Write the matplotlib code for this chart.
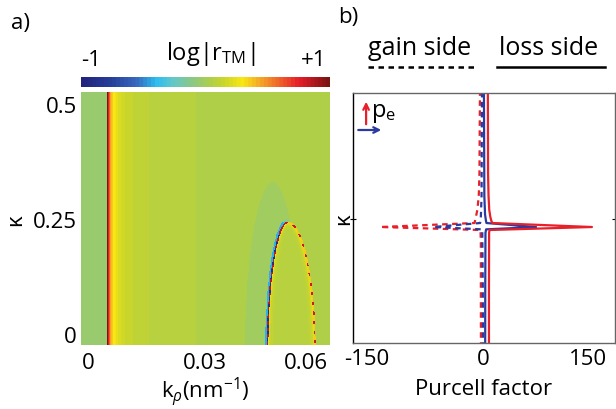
import numpy as np
import matplotlib
matplotlib.use('Agg')
import matplotlib.pyplot as plt
from matplotlib.colors import LinearSegmentedColormap, Normalize
from matplotlib.lines import Line2D
from matplotlib.transforms import ScaledTranslation

plt.rcParams['font.family'] = ['Open Sans', 'DejaVu Sans']
plt.rcParams['mathtext.fontset'] = 'custom'
plt.rcParams['mathtext.rm'] = 'Open Sans'
plt.rcParams['mathtext.it'] = 'Open Sans:italic'
plt.rcParams['mathtext.bf'] = 'Open Sans:bold'
plt.rcParams['axes.unicode_minus'] = False

# ---------------- panel a : map parameters ----------------
k_ticks = [0, 0.03, 0.06]
k_ticklabels = ['0', '0.03', '0.06']
kappa_ticks = [0, 0.25, 0.5]
kappa_ticklabels = ['0', '0.25', '0.5']
k_range = (-0.0003, 0.0737)
kappa_range = (-0.022, 0.528)

light_line_k = 0.00728
left_level = -0.06
background_level = 0.02
light_line_amp = 0.0028
light_line_exp = 0.75
arc_apex_k = 0.0612
arc_center_kappa = -0.05
arc_top_kappa = 0.2435
arc_halfwidth_left = 0.00609
arc_halfwidth_right = 0.00817
halo_center_k = 0.0567
halo_top_kappa = 0.33
halo_halfwidth = 0.0083

cbar_ticklabels = ['-1', '+1']

# colour map (position, rgb)
cmap_pos = [0.00, 0.12, 0.22, 0.30, 0.37, 0.45, 0.52, 0.58, 0.65, 0.73, 0.80, 0.88, 1.00]
cmap_rgb = [(35, 35, 125), (40, 65, 155), (55, 105, 190), (45, 190, 240), (100, 200, 200),
            (140, 200, 130), (175, 207, 75), (205, 215, 40), (250, 232, 20), (245, 160, 40),
            (240, 100, 40), (230, 30, 40), (125, 20, 20)]

# ---------------- panel b : Purcell factor curves ----------------
red_solid_kappa = [-0.03, 0.10, 0.22, 0.2261, 0.2326, 0.2413, 0.246, 0.255, 0.27, 0.30, 0.35, 0.53]
red_solid_P     = [8.6, 8.6, 8.8, 9.5, 156, 13.5, 12.0, 10.5, 9.0, 8.0, 7.3, 7.0]
blue_solid_kappa = [-0.03, 0.10, 0.22, 0.2275, 0.2326, 0.2413, 0.246, 0.26, 0.30, 0.53]
blue_solid_P     = [3.2, 3.3, 3.6, 4.5, 76, 5.0, 4.3, 3.0, 2.0, 1.4]
red_dash_kappa = [-0.03, 0.10, 0.20, 0.2261, 0.2326, 0.2413, 0.245, 0.255, 0.27, 0.30, 0.35, 0.53]
red_dash_P     = [-2.9, -3.0, -3.0, -3.5, -147, -12.0, -11.5, -10.0, -8.0, -6.0, -5.0, -4.3]
blue_dash_kappa = [-0.03, 0.10, 0.2275, 0.2326, 0.2413, 0.255, 0.30, 0.53]
blue_dash_P     = [0.0, -0.2, -1.0, -71, -4.0, -3.0, -2.0, -1.4]
P_ticks = [-150, 0, 150]
P_ticklabels = ['-150', '0', '150']
P_range = (-186, 189)
kappa_b_range = (-0.0196, 0.524)

RED = '#E8202A'
BLUE = '#2B3A9E'

W, H = 616, 409
fig = plt.figure(figsize=(W / 100, H / 100), dpi=100)


def box(x0, y0, x1, y1):
    return [x0 / W, 1 - y1 / H, (x1 - x0) / W, (y1 - y0) / H]


cmap = LinearSegmentedColormap.from_list(
    'rtm', [(p, tuple(c / 255 for c in rgb)) for p, rgb in zip(cmap_pos, cmap_rgb)], N=64)
norm = Normalize(-1, 1)

# ---- build map ----
axa = fig.add_axes(box(81, 92, 330, 345))
nk, nq = 600, 500
k = np.linspace(k_range[0], k_range[1], nk)
q = np.linspace(kappa_range[0], kappa_range[1], nq)
K, Q = np.meshgrid(k, q)
px_k = (k_range[1] - k_range[0]) / 249.0   # data per pixel
px_q = (kappa_range[1] - kappa_range[0]) / 253.0

V = np.full(K.shape, background_level)
dk = K - light_line_k
V = np.where(dk < 0, left_level, V)
ll = light_line_amp * np.power(np.clip(dk, 1e-7, None), -light_line_exp)
V = np.where(dk >= 0, background_level + ll, V)

# halo
hc = halo_top_kappa - arc_center_kappa
hr = np.sqrt(((K - halo_center_k) / halo_halfwidth) ** 2 + ((Q - arc_center_kappa) / hc) ** 2)

# arc (elliptic)
c = arc_top_kappa - arc_center_kappa
Rk = np.where(K < arc_apex_k, arc_halfwidth_left, arc_halfwidth_right)
u = (K - arc_apex_k) / Rk
w = (Q - arc_center_kappa) / c
r = np.sqrt(u ** 2 + w ** 2)
gx = u / (Rk * r) * px_k
gy = w / (c * r) * px_q
d = (1 - r) / np.sqrt(gx ** 2 + gy ** 2)   # pixel distance, + inside

left_side = K < arc_apex_k + 0.001
halo_mask = (hr < 1) & (d < 0)
V = np.where(halo_mask, -0.005 - 0.05 * np.exp(d / 5.0) * left_side, V)
inside = d > 0
V = np.where(inside, 0.075 + 0.22 * np.exp(-d / 2.5), V)
left_w = np.clip((arc_apex_k - K) / 0.0015, 0, 1)
outer = (d <= -0.8) & (d > -2.4)
V = np.where(outer, V * (1 - left_w) + (-0.42) * left_w, V)
ridge = np.abs(d) <= 0.8
alt = np.sin(Q * 420) > 0.2
ridge_left = np.where(alt & (Q < 0.22), -0.9, 0.82)
ridge_right = np.where(np.sin(Q * 300) > 0.5, 0.8, 0.35)
V = np.where(ridge, np.where(K < arc_apex_k, ridge_left, ridge_right), V)
V = np.clip(V, -1, 1)

axa.imshow(V, origin='lower', extent=[k_range[0], k_range[1], kappa_range[0], kappa_range[1]],
           aspect='auto', cmap=cmap, norm=norm, interpolation='nearest')
axa.set_xlim(*k_range)
axa.set_ylim(*kappa_range)
for s in axa.spines.values():
    s.set_visible(False)
axa.set_xticks(k_ticks)
axa.set_xticklabels(k_ticklabels, ha='left')
axa.set_yticks(kappa_ticks)
axa.set_yticklabels(kappa_ticklabels)
axa.tick_params(length=0, labelsize=16, pad=3)
axa.tick_params(axis='x', pad=6)
axa.set_xlabel(r'k$_\rho$(nm$^{\mathregular{-1}}$)', fontsize=16, labelpad=1)
fig.text(16 / W, 1 - 220 / H, 'κ', fontsize=16, rotation=90, ha='center', va='center')

# ---- colorbar ----
axc = fig.add_axes(box(81, 77, 330, 87))
grad = np.linspace(-1, 1, 256)[None, :]
axc.imshow(grad, aspect='auto', cmap=cmap, norm=norm, extent=[-1, 1, 0, 1])
axc.set_axis_off()
fig.text(91 / W, 1 - 61 / H, cbar_ticklabels[0], fontsize=16, ha='center', va='center')
fig.text(314 / W, 1 - 61 / H, cbar_ticklabels[1], fontsize=16, ha='center', va='center')
fig.text(211 / W, 1 - 60 / H, r'log|r$_{\mathregular{TM}}$|', fontsize=17, ha='center', va='baseline')
fig.text(21 / W, 1 - 23 / H, 'a)', fontsize=16, ha='center', va='center')

# ---- panel b ----
axb = fig.add_axes(box(353, 93, 615, 343))
dash = (2.5, 2.0)
axb.plot(red_dash_P, red_dash_kappa, color=RED, lw=1.6, ls=(0, dash))
axb.plot(blue_dash_P, blue_dash_kappa, color=BLUE, lw=1.6, ls=(0, dash))
axb.plot(blue_solid_P, blue_solid_kappa, color=BLUE, lw=1.6)
axb.plot(red_solid_P, red_solid_kappa, color=RED, lw=1.6)
axb.set_xlim(*P_range)
axb.set_ylim(*kappa_b_range)
axb.set_xticks(P_ticks)
axb.set_xticklabels(P_ticklabels)
axb.set_yticks([0.25])
axb.set_yticklabels([''])
axb.tick_params(axis='x', length=0, labelsize=16, pad=4)
axb.tick_params(axis='y', length=4, direction='inout', right=True, width=0.8)
lab0 = axb.get_xticklabels()[0]
lab0.set_transform(lab0.get_transform() + ScaledTranslation(-11 / 100, 0, fig.dpi_scale_trans))
for name, s in axb.spines.items():
    s.set_color('black' if name == 'left' else '#666666')
    s.set_linewidth(1.0)
axb.set_xlabel('Purcell factor', fontsize=16, labelpad=7)
fig.text(344 / W, 1 - 219 / H, 'κ', fontsize=16, rotation=90, ha='center', va='center')
fig.text(348 / W, 1 - 17 / H, 'b)', fontsize=16, ha='center', va='center')

# orientation legend inside panel b
axb.annotate('', xy=(0.05, 0.965), xytext=(0.05, 0.875), xycoords='axes fraction',
             arrowprops=dict(arrowstyle='->', color=RED, lw=1.6, shrinkA=0, shrinkB=0))
axb.annotate('', xy=(0.108, 0.852), xytext=(0.02, 0.852), xycoords='axes fraction',
             arrowprops=dict(arrowstyle='->', color=BLUE, lw=1.6, shrinkA=0, shrinkB=0))
axb.text(0.07, 0.905, r'p$_{\mathregular{e}}$', transform=axb.transAxes, fontsize=17,
         ha='left', va='baseline')

# gain / loss legend
fig.text(420 / W, 1 - 55 / H, 'gain side', fontsize=18, ha='center', va='baseline')
fig.text(549 / W, 1 - 55 / H, 'loss side', fontsize=18, ha='center', va='baseline')
fig.add_artist(Line2D([368 / W, 476 / W], [1 - 67 / H, 1 - 67 / H], color='black', lw=1.8,
                      ls=(0, (2.2, 1.8))))
fig.add_artist(Line2D([497 / W, 605 / W], [1 - 67 / H, 1 - 67 / H], color='black', lw=1.8))

fig.savefig('out.png', dpi=100)
